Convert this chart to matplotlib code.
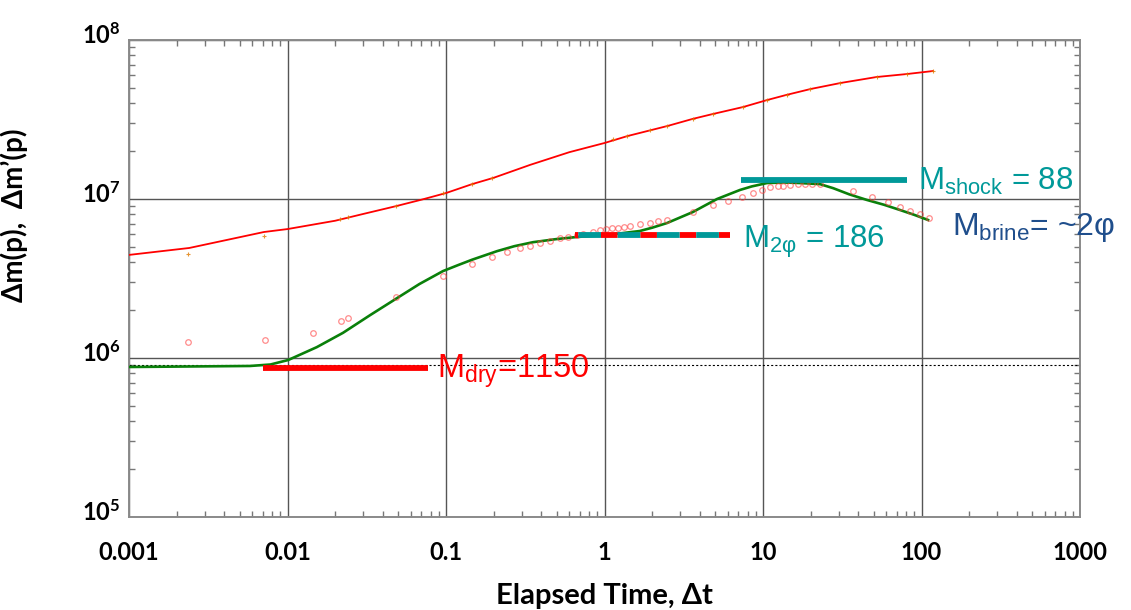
import numpy as np
import matplotlib.pyplot as plt
from matplotlib.ticker import LogLocator, NullFormatter
from matplotlib.transforms import ScaledTranslation

plt.rcParams['font.family'] = ['Lato', 'DejaVu Sans']
plt.rcParams['font.weight'] = 'bold'
plt.rcParams['lines.scale_dashes'] = False

# delta m(p) model line
t_mp = [0.001, 0.0024, 0.0071, 0.01, 0.02, 0.03, 0.048, 0.07, 0.1, 0.146, 0.2, 0.34, 0.6, 1.0, 1.4,
        2.5, 3.6, 4.8, 7.5, 10.6, 14, 20, 31, 52, 81, 118]
mp = [4.45e6, 4.92e6, 6.2e6, 6.47e6, 7.3e6, 8.05e6, 9.0e6, 9.9e6, 1.09e7, 1.24e7, 1.36e7, 1.64e7, 1.97e7, 2.25e7, 2.49e7,
      2.88e7, 3.19e7, 3.42e7, 3.79e7, 4.19e7, 4.51e7, 4.92e7, 5.37e7, 5.85e7, 6.11e7, 6.38e7]

# delta m(p) measured points (small orange crosses)
t_mp_pts = [0.00236, 0.00711, 0.0214, 0.0241, 0.0484, 0.0957, 0.146, 0.195, 1.13, 1.39, 1.94,
            2.48, 3.61, 4.84, 7.48, 10.6, 14.2, 19.8, 30.6, 52.4, 81.0, 118]
mp_pts = [4.49e6, 5.88e6, 7.48e6, 7.71e6, 9.04e6, 1.09e7, 1.24e7, 1.36e7, 2.38e7, 2.49e7, 2.72e7,
          2.88e7, 3.19e7, 3.42e7, 3.79e7, 4.19e7, 4.51e7, 4.92e7, 5.37e7, 5.85e7, 6.11e7, 6.38e7]

# derivative model (green)
t_deriv = [0.001, 0.0058, 0.0078, 0.0101, 0.0153, 0.0224, 0.0332, 0.0491, 0.068, 0.0957, 0.12, 0.146,
           0.21, 0.27, 0.354, 0.5, 0.671, 1.04, 1.67, 2.0, 2.48, 3.61, 4.3, 5.13, 7.16, 8.5, 10.6, 13.5,
           17.1, 22.9, 27.7, 35, 45.3, 58, 73.1, 90, 110]
deriv = [8.78e5, 8.91e5, 9.1e5, 9.71e5, 1.17e6, 1.44e6, 1.86e6, 2.38e6, 2.92e6, 3.52e6, 3.85e6, 4.15e6,
         4.7e6, 5.05e6, 5.35e6, 5.6e6, 5.77e6, 5.94e6, 6.29e6, 6.6e6, 7.06e6, 8.28e6, 9.1e6, 1.0e7, 1.14e7,
         1.2e7, 1.26e7, 1.27e7, 1.26e7, 1.24e7, 1.17e7, 1.07e7, 9.86e6, 9.2e6, 8.53e6, 7.95e6, 7.38e6]

# derivative points (open circles)
t_deriv_pts = [0.00236, 0.00721, 0.0145, 0.0218, 0.0241, 0.0484, 0.0957, 0.146, 0.195, 0.243,
               0.293, 0.339, 0.392, 0.453, 0.524, 0.589, 0.671, 0.732, 0.846, 0.937, 1.02, 1.11,
               1.22, 1.33, 1.45, 1.67, 1.94, 2.18, 2.48, 3.61, 4.84, 6.02, 7.38, 8.65, 9.86, 11.1,
               12.4, 13.4, 14.8, 16.6, 18.4, 20.4, 22.9, 37.0, 48.8, 61.5, 73.1, 84.5, 97.9, 111]
deriv_pts = [1.26e6, 1.30e6, 1.44e6, 1.71e6, 1.79e6, 2.42e6, 3.28e6, 3.90e6, 4.32e6, 4.64e6,
             4.92e6, 5.06e6, 5.29e6, 5.44e6, 5.69e6, 5.77e6, 5.94e6, 6.03e6, 6.20e6, 6.38e6, 6.47e6, 6.57e6,
             6.57e6, 6.67e6, 6.76e6, 6.96e6, 7.06e6, 7.28e6, 7.38e6, 8.28e6, 9.17e6, 9.71e6, 1.03e7, 1.09e7, 1.14e7, 1.19e7,
             1.21e7, 1.21e7, 1.22e7, 1.24e7, 1.24e7, 1.24e7, 1.24e7, 1.12e7, 1.03e7, 9.57e6, 8.91e6, 8.41e6, 8.05e6, 7.60e6]

# flow regime lines
m_dry_t = [0.0070, 0.0769]
m_dry_level = 8.65e5
m_2phi_t = [0.652, 6.2]
m_2phi_level = 5.98e6
m_shock_t = [7.23, 81.3]
m_shock_level = 1.32e7
dotted_level = 9.1e5

x_ticks = [0.001, 0.01, 0.1, 1, 10, 100, 1000]
x_tick_labels = ['0.001', '0.01', '0.1', '1', '10', '100', '1000']
y_ticks = [1e5, 1e6, 1e7, 1e8]

teal = '#009999'

fig = plt.figure(figsize=(11.31, 6.10), dpi=100)
ax = fig.add_axes([129/1131, 1-517/610, 951/1131, 477/610])
ax.set_xscale('log')
ax.set_yscale('log')
ax.set_xlim(1e-3, 1e3)
ax.set_ylim(1e5, 1e8)
ax.set_axisbelow(True)
ax.grid(True, which='major', color='#555555', lw=1.0)

ax.axhline(dotted_level, color='black', lw=0.8, ls=(0, (1.5, 1.5)), zorder=1.5)

ax.plot(t_mp, mp, color='red', lw=1.3, zorder=3)
ax.plot(t_mp_pts, mp_pts, ls='none', marker='+', ms=3, mew=0.8, color='#e07b00', alpha=0.8, zorder=4)
ax.plot(t_deriv, deriv, color='#0a800a', lw=1.9, zorder=3)
ax.plot(t_deriv_pts, deriv_pts, ls='none', marker='o', ms=4, mfc='none', mec='#ff4040',
        mew=0.9, alpha=0.6, zorder=4)

# regime lines
ax.plot(m_dry_t, [m_dry_level]*2, color='red', lw=4.2, solid_capstyle='butt', zorder=5)
ax.plot(m_2phi_t, [m_2phi_level]*2, color=teal, lw=4.2, ls=(25.9, (16.3, 12.0)),
        gapcolor='red', dash_capstyle='butt', zorder=5)
ax.plot(m_shock_t, [m_shock_level]*2, color=teal, lw=4.2, solid_capstyle='butt', zorder=5)

ann = dict(fontfamily='Liberation Sans', fontweight='normal',
           transform=ax.transAxes, va='baseline', ha='left', clip_on=False)
ax.text(0.324, 0.2935, r'M$_{\mathdefault{dry}}$=1150', color='red', fontsize=23.5, **ann)
ax.text(0.6456, 0.564, r'M$_{\mathdefault{2φ}}$ = 186', color=teal, fontsize=22.5, **ann)
ax.text(0.8297, 0.6855, r'M$_{\mathdefault{shock}}$ = 88', color=teal, fontsize=22.5, **ann)
ax.text(0.8654, 0.5912, r'M$_{\mathdefault{brine}}$= ~2φ', color='#1f4e8c', fontsize=23, **ann)

ax.set_xticks(x_ticks, x_tick_labels)
ax.set_yticks(y_ticks)
ax.xaxis.set_minor_locator(LogLocator(base=10, subs=np.arange(2, 10), numticks=20))
ax.yaxis.set_minor_locator(LogLocator(base=10, subs=np.arange(2, 10), numticks=20))
ax.xaxis.set_minor_formatter(NullFormatter())
ax.yaxis.set_minor_formatter(NullFormatter())
ax.tick_params(which='both', direction='in', top=True, right=True, color='#777777')
ax.tick_params(which='major', length=0, labelsize=17)
ax.tick_params(which='minor', length=4, width=1)
ax.tick_params(axis='x', which='major', pad=17)
ax.tick_params(axis='y', which='major', pad=6)
for lab in ax.get_yticklabels():
    lab.set_transform(lab.get_transform() + ScaledTranslation(0, 7/100, fig.dpi_scale_trans))

for s in ax.spines.values():
    s.set_color('#8a8a8a')
    s.set_linewidth(1.4)

ax.set_xlabel('Elapsed Time, Δt', fontsize=21, fontweight='bold', labelpad=14)
ax.set_ylabel('Δm(p),  Δm’(p)', fontsize=20, fontweight='bold')
ax.yaxis.set_label_coords(-0.106, 0.633)

fig.savefig('out.png', dpi=100)
